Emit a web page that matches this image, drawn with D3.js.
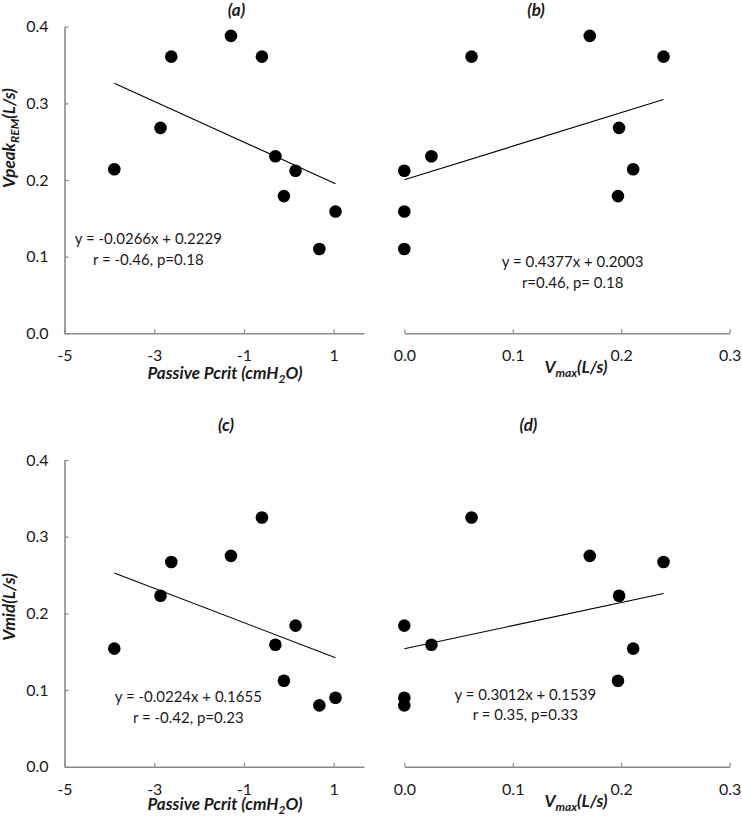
<!DOCTYPE html>
<html>
<head>
<meta charset="utf-8">
<script src="https://cdn.jsdelivr.net/npm/d3@7"></script>
<style>
  html, body { margin: 0; padding: 0; background: #fff; }
  svg { display: block; }
  text { font-family: Lato, "Open Sans", sans-serif; fill: #1a1a1a; }
</style>
</head>
<body>
<svg id="chart" width="742" height="817"></svg>
<script>
// ---- Data (one value per subject) ----
const pcrit = [-3.89, -2.86, -2.62, -1.29, -0.60, -0.30, 0.15, -0.11, 1.04, 0.68];
const vmax  = [0.211, 0.198, 0.239, 0.171, 0.062, 0.025, 0.000, 0.197, 0.000, 0.000];
const vpeak = [0.214, 0.268, 0.361, 0.388, 0.361, 0.231, 0.212, 0.179, 0.159, 0.110];
const vmid  = [0.154, 0.223, 0.267, 0.275, 0.325, 0.159, 0.184, 0.112, 0.090, 0.080];

// regression fits [slope, intercept]
const fitA = [-0.0266, 0.2229];
const fitB = [0.4377, 0.2003];
const fitC = [-0.0224, 0.1655];
const fitD = [0.3012, 0.1539];

const eqA = ["y = -0.0266x + 0.2229", "r = -0.46, p=0.18"];
const eqB = ["y = 0.4377x + 0.2003", "r=0.46, p= 0.18"];
const eqC = ["y = -0.0224x + 0.1655", "r = -0.42, p=0.23"];
const eqD = ["y = 0.3012x + 0.1539", "r = 0.35, p=0.33"];

const titles = ["(a)", "(b)", "(c)", "(d)"];
const pcritTicks = [-5, -3, -1, 1];
const vmaxTicks = [0, 0.1, 0.2, 0.3];
const yTicks = [0, 0.1, 0.2, 0.3, 0.4];

const svg = d3.select("#chart");
const axisColor = "#8a8a8a";

const rows = [
  { top: 26.7, bottom: 333.3, lblP: 46, lblV: 40 },
  { top: 460, bottom: 766.7, lblP: 43.5, lblV: 40 }
];

function yScaleFor(row) {
  return d3.scaleLinear().domain([0, 0.4]).range([row.bottom, row.top]);
}
const xPcrit = d3.scaleLinear().domain([-5, 1.675]).range([64.5, 364]);
const xVmax = d3.scaleLinear().domain([0, 0.3]).range([404.3, 729.7]);

const panels = [
  { row: 0, x: xPcrit, xs: pcrit, ys: vpeak, fit: fitA, eq: eqA, eqX: 148.3, eqY: 244, title: titles[0], tX: 236.5, tY: 15.5, yAxis: true, kind: "p" },
  { row: 0, x: xVmax,  xs: vmax,  ys: vpeak, fit: fitB, eq: eqB, eqX: 572.7, eqY: 267, title: titles[1], tX: 536, tY: 15.5, yAxis: false, kind: "v" },
  { row: 1, x: xPcrit, xs: pcrit, ys: vmid,  fit: fitC, eq: eqC, eqX: 188.3, eqY: 702, title: titles[2], tX: 226, tY: 431, yAxis: true, kind: "p" },
  { row: 1, x: xVmax,  xs: vmax,  ys: vmid,  fit: fitD, eq: eqD, eqX: 525.3, eqY: 699.5, title: titles[3], tX: 528.5, tY: 431, yAxis: false, kind: "v" }
];

function styleAxis(g) {
  g.select(".domain").attr("stroke", axisColor).attr("stroke-width", 1.6);
  g.selectAll(".tick line").attr("stroke", axisColor).attr("stroke-width", 1.2);
  g.selectAll(".tick text").attr("fill", "#1a1a1a").style("font-size", "16px")
    .style("font-family", "Lato, 'Open Sans', sans-serif");
}

panels.forEach(p => {
  const row = rows[p.row];
  const y = yScaleFor(row);
  const g = svg.append("g");

  // x axis
  const xAxis = d3.axisBottom(p.x)
    .tickValues(p.kind === "p" ? pcritTicks : vmaxTicks)
    .tickFormat(p.kind === "p" ? (d => String(d)) : (d => d.toFixed(1)))
    .tickSizeInner(-4).tickSizeOuter(0).tickPadding(16.5);
  const gx = g.append("g").attr("transform", `translate(0,${row.bottom})`).call(xAxis);
  styleAxis(gx);

  // y axis
  if (p.yAxis) {
    const yAxis = d3.axisLeft(y).tickValues(yTicks).tickFormat(d => d.toFixed(1))
      .tickSizeInner(-4).tickSizeOuter(0).tickPadding(16);
    const gy = g.append("g").attr("transform", `translate(${p.x.range()[0]},0)`).call(yAxis);
    styleAxis(gy);
    gy.selectAll(".tick text").attr("x", -16);
  }

  // regression line over the data range
  const ext = d3.extent(p.xs);
  g.append("line")
    .attr("x1", p.x(ext[0])).attr("y1", y(p.fit[0] * ext[0] + p.fit[1]))
    .attr("x2", p.x(ext[1])).attr("y2", y(p.fit[0] * ext[1] + p.fit[1]))
    .attr("stroke", "#000").attr("stroke-width", 1.1);

  // points
  g.selectAll("circle").data(p.xs.map((d, i) => [d, p.ys[i]])).join("circle")
    .attr("cx", d => p.x(d[0])).attr("cy", d => y(d[1]))
    .attr("r", 6.3).attr("fill", "#000");

  // equation text
  p.eq.forEach((t, i) => {
    g.append("text").attr("x", p.eqX).attr("y", p.eqY + i * 20.5)
      .attr("text-anchor", "middle").style("font-size", "15px").text(t);
  });

  // title
  g.append("text").attr("x", p.tX).attr("y", p.tY).attr("text-anchor", "middle")
    .style("font-size", "17px").style("font-weight", "bold").style("font-style", "italic")
    .text(p.title);

  // x axis label
  const lbl = g.append("text").attr("text-anchor", "middle")
    .style("font-size", "17px").style("font-weight", "bold").style("font-style", "italic");
  if (p.kind === "p") {
    lbl.attr("x", 225).attr("y", row.bottom + row.lblP);
    lbl.append("tspan").text("Passive Pcrit (cmH");
    lbl.append("tspan").attr("dy", 3.5).style("font-size", "12px").text("2");
    lbl.append("tspan").attr("dy", -3.5).text("O)");
  } else {
    lbl.attr("x", 576).attr("y", row.bottom + row.lblV);
    lbl.append("tspan").text("V");
    lbl.append("tspan").attr("dy", 4).style("font-size", "12px").text("max");
    lbl.append("tspan").attr("dy", -4).text("(L/s)");
  }
});

// y axis labels
function yLabel(cy, parts) {
  const t = svg.append("text").attr("transform", `translate(19,${cy}) rotate(-90)`)
    .attr("text-anchor", "middle")
    .style("font-size", "17px").style("font-weight", "bold").style("font-style", "italic");
  parts.forEach(([s, sub]) => {
    if (sub) {
      t.append("tspan").attr("dy", 4).style("font-size", "12px").text(s);
    } else {
      t.append("tspan").attr("dy", t.selectAll("tspan").size() ? -4 : 0).text(s);
    }
  });
}
yLabel(138, [["Vpeak", false], ["REM", true], ["(L/s)", false]]);
yLabel(607, [["Vmid(L/s)", false]]);
</script>
</body>
</html>
